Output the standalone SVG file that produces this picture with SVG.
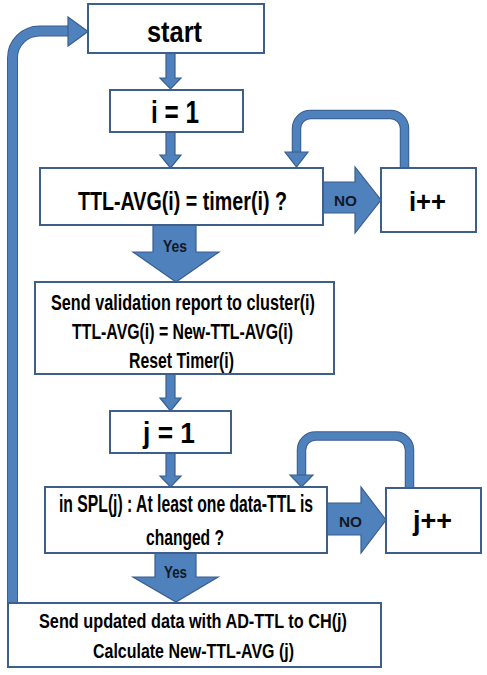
<svg xmlns="http://www.w3.org/2000/svg" width="487" height="675" viewBox="0 0 487 675">
<style>
.box{fill:#fff;stroke:#3E5F8C;stroke-width:2}
.arr{fill:#4F81BD;stroke:#3A5E8E;stroke-width:1.2;stroke-linejoin:miter}
.lo{fill:none;stroke:#3A5E8E;stroke-width:9.5}
.li{fill:none;stroke:#4F81BD;stroke-width:7.5}
.bo{fill:none;stroke:#3A5E8E;stroke-width:11}
.bi{fill:none;stroke:#4F81BD;stroke-width:9}
text{font-family:"Liberation Sans",Arial,sans-serif;font-weight:bold;fill:#000;text-anchor:middle}
.lab{fill:#111827}
</style>
<rect width="487" height="675" fill="#fff"/>
<g id="connectors">
  <path class="bo" d="M12.5,603 V58 A27,27 0 0 1 39.5,31 H70"/>
  <path class="bi" d="M12.5,604 V58 A27,27 0 0 1 39.5,31 H71"/>
  <polygon class="arr" points="68,17 88,31.5 68,46"/>
  <path class="arr" d="M166,53 L175,53 L175,78 L181,78 L170.5,89 L160,78 L166,78 Z"/>
  <path class="arr" d="M166,132 L175,132 L175,155 L181,155 L170.5,168 L160,155 L166,155 Z"/>
  <path class="arr" d="M166,374 L175,374 L175,398 L181,398 L170.5,411 L160,398 L166,398 Z"/>
  <path class="arr" d="M166,453 L175,453 L175,476 L181,476 L170.5,487 L160,476 L166,476 Z"/>
  <path class="arr" d="M323,182 L355,182 L355,167 L381,200 L355,233 L355,213 L323,213 Z"/>
  <text class="lab" x="345.5" y="206" font-size="15" textLength="23" lengthAdjust="spacingAndGlyphs">NO</text>
  <path class="arr" d="M327,503 L361,503 L361,487 L386,520 L361,553 L361,535 L327,535 Z"/>
  <text class="lab" x="350.5" y="527" font-size="15" textLength="23" lengthAdjust="spacingAndGlyphs">NO</text>
  <path class="arr" d="M153,225 L196,225 L196,252 L219,252 L176,282 L133,252 L153,252 Z"/>
  <text class="lab" transform="translate(175,252) scale(1,1.26)" font-size="13.5" textLength="24" lengthAdjust="spacingAndGlyphs">Yes</text>
  <path class="arr" d="M155,553 L196,553 L196,577 L218,577 L176,602 L133,577 L155,577 Z"/>
  <text class="lab" transform="translate(175.5,578) scale(1,1.3)" font-size="13" textLength="23" lengthAdjust="spacingAndGlyphs">Yes</text>
  <path class="lo" d="M404.5,168 V128.5 A14,14 0 0 0 390.5,114.5 H310.5 A14,14 0 0 0 296.5,128.5 V153"/>
  <path class="li" d="M404.5,169 V128.5 A14,14 0 0 0 390.5,114.5 H310.5 A14,14 0 0 0 296.5,128.5 V154"/>
  <polygon class="arr" points="285,152 308,152 296.5,167"/>
  <path class="lo" d="M409.5,488 V450 A14,14 0 0 0 395.5,436 H315.5 A14,14 0 0 0 301.5,450 V476"/>
  <path class="li" d="M409.5,489 V450 A14,14 0 0 0 395.5,436 H315.5 A14,14 0 0 0 301.5,450 V477"/>
  <polygon class="arr" points="290,475 313,475 301.5,487"/>
</g>
<g id="start">
  <rect class="box" x="88" y="4" width="176" height="49"/>
  <text transform="translate(174.5,42) scale(1,1.18)" font-size="25.4" textLength="55" lengthAdjust="spacingAndGlyphs">start</text>
</g>
<g id="i1">
  <rect class="box" x="110" y="90" width="133" height="42"/>
  <text transform="translate(175,123) scale(1,1.32)" font-size="24.3" textLength="48" lengthAdjust="spacingAndGlyphs">i = 1</text>
</g>
<g id="decision1">
  <rect class="box" x="40" y="168" width="283" height="57"/>
  <text transform="translate(182.5,210) scale(1,1.33)" font-size="19.5" textLength="209" lengthAdjust="spacingAndGlyphs">TTL-AVG(i) = timer(i) ?</text>
</g>
<g id="iplus">
  <rect class="box" x="381" y="168" width="95" height="64"/>
  <text transform="translate(427.5,211) scale(1,1.09)" font-size="25.6" textLength="37" lengthAdjust="spacingAndGlyphs">i++</text>
</g>
<g id="report">
  <rect class="box" x="35" y="282" width="299" height="92"/>
  <text transform="translate(183,310) scale(1,1.36)" font-size="16.2" textLength="264" lengthAdjust="spacingAndGlyphs">Send validation report to cluster(i)</text>
  <text transform="translate(182.5,339) scale(1,1.4)" font-size="15.7" textLength="221" lengthAdjust="spacingAndGlyphs">TTL-AVG(i) = New-TTL-AVG(i)</text>
  <text transform="translate(181.5,368) scale(1,1.4)" font-size="15.7" textLength="105" lengthAdjust="spacingAndGlyphs">Reset Timer(i)</text>
</g>
<g id="j1">
  <rect class="box" x="110" y="411" width="121" height="42"/>
  <text transform="translate(169,443) scale(1,1.14)" font-size="26.3" textLength="52" lengthAdjust="spacingAndGlyphs">j = 1</text>
</g>
<g id="decision2">
  <rect class="box" x="45" y="487" width="282" height="66"/>
  <text transform="translate(186,512) scale(1,1.47)" font-size="15.7" textLength="254" lengthAdjust="spacingAndGlyphs">in SPL(j) : At least one data-TTL is</text>
  <text transform="translate(185,545) scale(1,1.47)" font-size="15.6" textLength="78" lengthAdjust="spacingAndGlyphs">changed ?</text>
</g>
<g id="jplus">
  <rect class="box" x="386" y="488" width="95" height="65"/>
  <text transform="translate(432.5,530) scale(1,1.04)" font-size="27" textLength="39" lengthAdjust="spacingAndGlyphs">j++</text>
</g>
<g id="send">
  <rect class="box" x="8" y="603" width="373" height="64"/>
  <text transform="translate(193,628) scale(1,1.3)" font-size="16.2" textLength="308" lengthAdjust="spacingAndGlyphs">Send updated data with AD-TTL to CH(j)</text>
  <text transform="translate(193.5,658) scale(1,1.32)" font-size="15.9" textLength="201" lengthAdjust="spacingAndGlyphs">Calculate New-TTL-AVG (j)</text>
</g>
</svg>
